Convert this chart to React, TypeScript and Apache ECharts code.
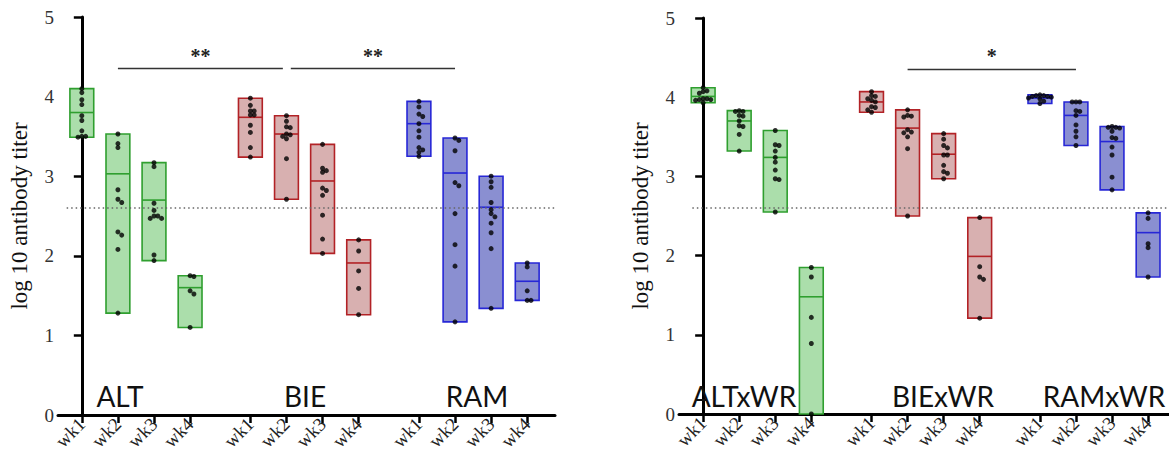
import React, { useEffect, useRef } from 'react';
import * as echarts from 'echarts';

// ---------- data ----------
const WEEKS = ['wk1', 'wk2', 'wk3', 'wk4'];
const LEFT_GROUPS = ['ALT', 'BIE', 'RAM'];
const RIGHT_GROUPS = ['ALTxWR', 'BIExWR', 'RAMxWR'];
const Y_TICKS = [0, 1, 2, 3, 4, 5];
const THRESHOLD = 2.6;

// individual log10 titers, per week
const ALT = [
  [4.10, 4.05, 3.96, 3.90, 3.76, 3.70, 3.57, 3.50, 3.50, 3.49],
  [3.53, 3.41, 3.36, 2.83, 2.71, 2.67, 2.30, 2.26, 2.08, 1.28],
  [3.17, 3.12, 2.66, 2.57, 2.50, 2.50, 2.47, 2.47, 2.01, 1.94],
  [1.75, 1.74, 1.56, 1.52, 1.10],
];
const ALT_MID = [3.80, 3.03, 2.70, 1.60];

const BIE = [
  [3.98, 3.89, 3.82, 3.82, 3.77, 3.77, 3.64, 3.55, 3.36, 3.24],
  [3.76, 3.69, 3.62, 3.61, 3.53, 3.52, 3.50, 3.47, 3.22, 2.71],
  [3.40, 3.10, 3.07, 3.05, 2.85, 2.82, 2.76, 2.51, 2.21, 2.03],
  [2.20, 2.06, 1.81, 1.59, 1.26],
];
const BIE_MID = [3.74, 3.53, 2.94, 1.91];

const RAM = [
  [3.94, 3.87, 3.78, 3.75, 3.66, 3.57, 3.49, 3.36, 3.33, 3.30, 3.25],
  [3.48, 3.45, 3.32, 2.92, 2.88, 2.53, 2.14, 1.87, 1.17],
  [3.00, 2.93, 2.86, 2.67, 2.58, 2.53, 2.49, 2.41, 2.29, 2.09, 1.34],
  [1.91, 1.86, 1.56, 1.44, 1.44],
];
const RAM_MID = [3.66, 3.04, 2.61, 1.68];

const ALTxWR = [
  [4.12, 4.08, 4.07, 4.05, 3.98, 3.98, 3.97, 3.97, 3.96, 3.93],
  [3.83, 3.82, 3.82, 3.77, 3.76, 3.70, 3.64, 3.63, 3.53, 3.32],
  [3.58, 3.40, 3.39, 3.32, 3.24, 3.18, 3.08, 2.97, 2.96, 2.55],
  [1.85, 1.73, 1.22, 0.89, 0],
];
const ALTxWR_MID = [4.01, 3.70, 3.24, 1.48];

const BIExWR = [
  [4.07, 4.02, 4.01, 3.98, 3.96, 3.94, 3.88, 3.87, 3.84, 3.81],
  [3.84, 3.77, 3.76, 3.75, 3.59, 3.56, 3.55, 3.50, 3.35, 2.50],
  [3.54, 3.47, 3.39, 3.36, 3.27, 3.27, 3.14, 3.06, 3.04, 2.97],
  [2.48, 1.86, 1.73, 1.70, 1.21],
];
const BIExWR_MID = [3.94, 3.61, 3.28, 1.99];

const RAMxWR = [
  [4.03, 4.02, 4.02, 4.01, 4.01, 4.00, 3.99, 3.98, 3.95, 3.92],
  [3.94, 3.94, 3.94, 3.83, 3.82, 3.77, 3.65, 3.57, 3.50, 3.39],
  [3.63, 3.62, 3.62, 3.61, 3.57, 3.49, 3.48, 3.37, 3.27, 2.99, 2.83],
  [2.54, 2.47, 2.15, 2.10, 1.73],
];
const RAMxWR_MID = [3.99, 3.77, 3.44, 2.29];

// significance brackets: [group, week] -> [group, week]
const SIG_LEFT = [
  { from: [0, 1], to: [1, 1], y: 4.35, text: '**' },
  { from: [1, 1], to: [2, 1], y: 4.35, text: '**' },
];
const SIG_RIGHT = [{ from: [1, 1], to: [2, 1], y: 4.35, text: '*' }];

// ---------- styling / layout ----------
const COLORS = [
  { fill: '#abdeab', stroke: '#2f9f2f' },
  { fill: '#d8b0b0', stroke: '#b22226' },
  { fill: '#8a8fd1', stroke: '#2727d6' },
];
const STRIDE = 4.67;
const BOX_W = 0.66;
const SERIF = '"Liberation Serif", "Times New Roman", serif';
const SANS = 'Lato';

const pos = (g: number, w: number) => g * STRIDE + w;
const POSITIONS: number[] = [];
for (let g = 0; g < 3; g++) for (let w = 0; w < 4; w++) POSITIONS.push(pos(g, w));

function beeswarm(vals: number[], pxX: number, pxY: number): number[] {
  const placed: { o: number; v: number }[] = [];
  const d = 3.8;
  const step = 3.8;
  const res: number[] = [];
  vals.forEach((v) => {
    let chosen = 0;
    for (let k = 0; k < 40; k++) {
      const cand = k === 0 ? 0 : (k % 2 === 1 ? 1 : -1) * Math.ceil(k / 2) * step;
      const ok = placed.every((p) => {
        const dx = cand - p.o;
        const dy = (v - p.v) * pxY;
        return Math.sqrt(dx * dx + dy * dy) >= d;
      });
      if (ok) {
        chosen = cand;
        break;
      }
    }
    placed.push({ o: chosen, v });
    res.push(chosen / pxX);
  });
  return res;
}

function panelSeries(groups: number[][][], mids: number[][], sig: any[], idx: number, xStart: number, xEnd: number) {
  const boxes: any[] = [];
  const dots: any[] = [];
  groups.forEach((grp, g) => {
    grp.forEach((vals, w) => {
      const x = pos(g, w);
      boxes.push([x, Math.min(...vals), Math.max(...vals), mids[g][w], g]);
      const offs = beeswarm(vals, 36, 79.4);
      vals.forEach((v, i) => dots.push([x + offs[i], v]));
    });
  });
  const ends = sig.map((s) => [pos(s.from[0], s.from[1]), pos(s.to[0], s.to[1])]);
  const sigLines = sig.map((s, i) => {
    let [a, b] = ends[i];
    const sharedA = ends.some((e, j) => j !== i && Math.abs(e[1] - a) < 1e-6);
    const sharedB = ends.some((e, j) => j !== i && Math.abs(e[0] - b) < 1e-6);
    if (sharedA) a += 0.12;
    if (sharedB) b -= 0.1;
    return [
      {
        coord: [a, s.y],
        label: {
          show: true,
          formatter: s.text,
          position: 'middle',
          distance: 3,
          fontFamily: SERIF,
          fontWeight: 'bold',
          fontSize: 20,
          color: '#222',
        },
      },
      { coord: [b, s.y] },
    ];
  });
  return [
    {
      type: 'custom',
      xAxisIndex: idx,
      yAxisIndex: idx,
      data: boxes,
      encode: { x: 0, y: [1, 2] },
      z: 2,
      renderItem: (params: any, api: any) => {
        const x = api.value(0);
        const lo = api.value(1);
        const hi = api.value(2);
        const mid = api.value(3);
        const c = COLORS[api.value(4)];
        const p1 = api.coord([x - BOX_W / 2, hi]);
        const p2 = api.coord([x + BOX_W / 2, lo]);
        const pm = api.coord([x, mid]);
        return {
          type: 'group',
          children: [
            {
              type: 'rect',
              shape: { x: p1[0], y: p1[1], width: p2[0] - p1[0], height: p2[1] - p1[1] },
              style: { fill: c.fill, stroke: c.stroke, lineWidth: 1.6 },
            },
            {
              type: 'line',
              shape: { x1: p1[0], y1: pm[1], x2: p2[0], y2: pm[1] },
              style: { stroke: c.stroke, lineWidth: 1.6 },
            },
          ],
        };
      },
    },
    {
      type: 'scatter',
      xAxisIndex: idx,
      yAxisIndex: idx,
      data: dots,
      symbol: 'circle',
      symbolSize: 5,
      itemStyle: { color: '#000' },
      z: 5,
      markLine: {
        silent: true,
        symbol: 'none',
        lineStyle: { color: '#666', type: [1.5, 3], width: 1.5 },
        label: { show: false },
        data: [[{ coord: [xStart, THRESHOLD] }, { coord: [xEnd, THRESHOLD] }]],
      },
    },
    {
      type: 'scatter',
      xAxisIndex: idx,
      yAxisIndex: idx,
      data: [],
      markLine: {
        silent: true,
        symbol: 'none',
        lineStyle: { color: '#333', type: 'solid', width: 1.4 },
        data: sigLines,
      },
    },
  ];
}

function xAxis(idx: number, min: number, max: number) {
  return {
    type: 'value',
    gridIndex: idx,
    min,
    max,
    axisLine: { show: true, onZero: false, lineStyle: { color: '#000', width: 3 } },
    axisTick: { show: true, customValues: POSITIONS, length: 8, lineStyle: { color: '#000', width: 2.5 } },
    axisLabel: {
      customValues: POSITIONS,
      rotate: 45,
      margin: 6,
      fontFamily: SERIF,
      fontSize: 19,
      color: '#222',
      formatter: (v: number) => {
        const i = POSITIONS.findIndex((p) => Math.abs(p - v) < 0.01);
        return i >= 0 ? WEEKS[i % 4] : '';
      },
    },
    splitLine: { show: false },
  };
}

function yAxis(idx: number) {
  return {
    type: 'value',
    gridIndex: idx,
    min: Y_TICKS[0],
    max: Y_TICKS[Y_TICKS.length - 1],
    interval: 1,
    name: 'log 10 antibody titer',
    nameLocation: 'middle',
    nameGap: 27,
    nameTextStyle: { fontFamily: SERIF, fontSize: 23, color: '#111' },
    axisLine: { show: true, lineStyle: { color: '#000', width: 3 } },
    axisTick: { show: true, length: 8, lineStyle: { color: '#000', width: 2.5 } },
    axisLabel: { fontFamily: SERIF, fontSize: 19, color: '#333', margin: 4 },
    splitLine: { show: false },
  };
}

const GROUP_LABEL_X = [120, 305, 477, 744, 943, 1104];

export default function App() {
  const ref = useRef<HTMLDivElement>(null);
  useEffect(() => {
    if (!ref.current) return;
    const chart = echarts.init(ref.current, undefined, { renderer: 'svg' });
    const groupLabels = [...LEFT_GROUPS, ...RIGHT_GROUPS].map((t, i) => ({
      type: 'text',
      x: GROUP_LABEL_X[i],
      y: 396,
      z: 10,
      style: {
        text: t,
        fontFamily: SANS,
        fontSize: 28,
        fill: '#111',
        align: 'center',
        verticalAlign: 'middle',
      },
    }));
    chart.setOption({
      animation: false,
      backgroundColor: '#fff',
      textStyle: { fontFamily: SERIF },
      grid: [
        { left: 58, top: 17, width: 497, height: 398 },
        { left: 679, top: 18, width: 490, height: 396 },
      ],
      xAxis: [xAxis(0, -0.66, 13.11), xAxis(1, -0.67, 12.92)],
      yAxis: [yAxis(0), yAxis(1)],
      graphic: groupLabels,
      series: [
        ...panelSeries([ALT, BIE, RAM], [ALT_MID, BIE_MID, RAM_MID], SIG_LEFT, 0, -0.42, 13.11),
        ...panelSeries([ALTxWR, BIExWR, RAMxWR], [ALTxWR_MID, BIExWR_MID, RAMxWR_MID], SIG_RIGHT, 1, -0.3, 12.92),
      ],
    });
    return () => chart.dispose();
  }, []);
  return (
    <div
      ref={ref}
      style={{ position: 'absolute', left: 0, top: 0, width: 1169, height: 463 }}
    />
  );
}
